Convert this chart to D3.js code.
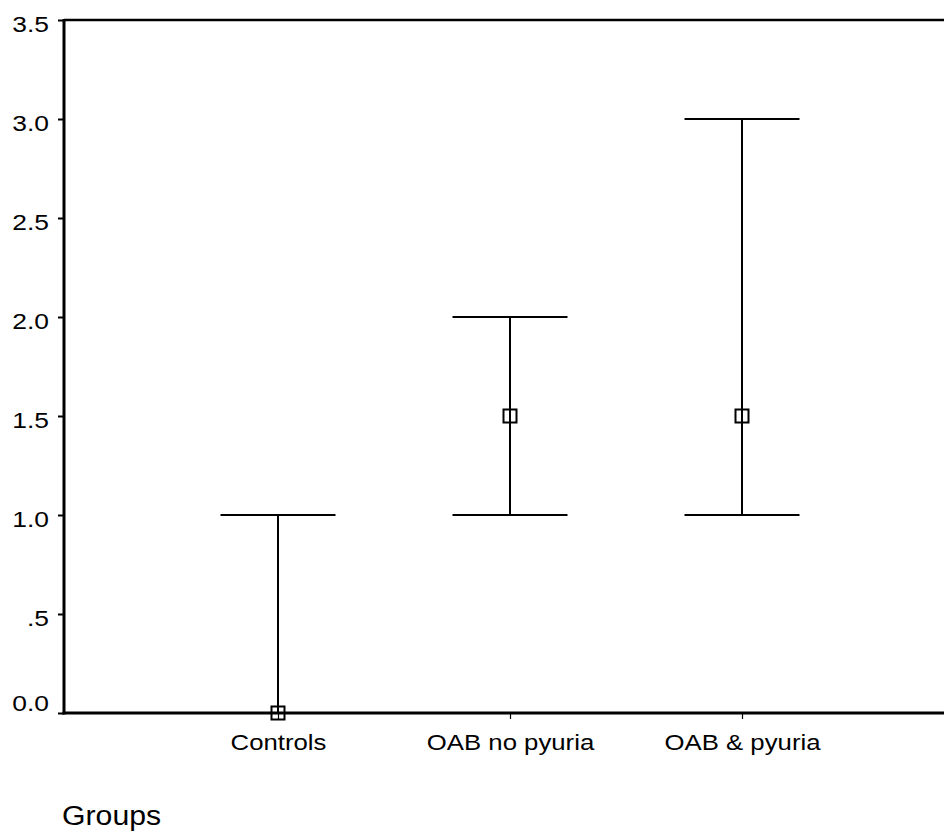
<!DOCTYPE html>
<html>
<head>
<meta charset="utf-8">
<script src="https://cdn.jsdelivr.net/npm/d3@7"></script>
<style>
  html, body { margin: 0; padding: 0; background: #fff; }
  svg { display: block; }
  text { font-family: "Liberation Sans", Arial, sans-serif; fill: #000; }
</style>
</head>
<body>
<svg id="chart" width="944" height="834"></svg>
<script>
// ---- data ----
const categories = ["Controls", "OAB no pyuria", "OAB & pyuria"];
const lowValues  = [0, 1, 1];
const highValues = [1, 2, 3];
const midValues  = [0, 1.5, 1.5];
const yTickValues = [0, 0.5, 1, 1.5, 2, 2.5, 3, 3.5];
const yTickLabels = ["0.0", ".5", "1.0", "1.5", "2.0", "2.5", "3.0", "3.5"];
const xAxisTitle = "Groups";

// ---- layout ----
const W = 944, H = 834;
const plotLeft = 64, plotTop = 20, plotBottom = 713, plotRight = 956;
const sx = 1.12;  // horizontal stretch of the text
const syx = 1.2;  // stretch for y tick labels

const svg = d3.select("#chart");

const y = d3.scaleLinear().domain([0, 3.5]).range([plotBottom, plotTop]);
const x = d3.scalePoint().domain(categories).range([plotLeft, plotRight]).padding(0.9224);

// frame: top line
svg.append("line")
  .attr("x1", plotLeft).attr("x2", W).attr("y1", y(3.5)).attr("y2", y(3.5))
  .attr("stroke", "#000").attr("stroke-width", 2.5);

// y axis
const yAxis = d3.axisLeft(y).tickValues(yTickValues)
  .tickFormat((d, i) => yTickLabels[i]).tickSize(6).tickPadding(0);
const gy = svg.append("g").attr("transform", `translate(${plotLeft},0)`).call(yAxis);
gy.select(".domain").remove();
gy.selectAll(".tick line").attr("stroke", "#000").attr("stroke-width", 2);
gy.selectAll(".tick text").remove();
gy.selectAll(".tick").append("text")
  .attr("text-anchor", "end")
  .attr("font-size", 22)
  .attr("transform", d => {
    const base = Math.min(11, plotBottom - 3 - y(d));
    return `translate(-15,${base}) scale(${syx},1)`;
  })
  .text(d => yTickLabels[yTickValues.indexOf(d)]);
svg.append("line")
  .attr("x1", plotLeft).attr("x2", plotLeft).attr("y1", plotTop - 1).attr("y2", plotBottom + 1.5)
  .attr("stroke", "#000").attr("stroke-width", 3);

// x axis
const xAxis = d3.axisBottom(x).tickSize(6).tickPadding(0);
const gx = svg.append("g").attr("transform", `translate(0,${plotBottom})`).call(xAxis);
gx.select(".domain").remove();
gx.selectAll(".tick line").attr("stroke", "#000").attr("stroke-width", 1.2);
gx.selectAll(".tick text").remove();
gx.selectAll(".tick").append("text")
  .attr("text-anchor", "middle")
  .attr("font-size", 23)
  .attr("transform", `translate(0,37) scale(${sx},1)`)
  .text(d => d);
svg.append("line")
  .attr("x1", plotLeft - 1.5).attr("x2", W).attr("y1", plotBottom).attr("y2", plotBottom)
  .attr("stroke", "#000").attr("stroke-width", 3);

// axis title
svg.append("text")
  .attr("font-size", 27)
  .attr("transform", `translate(62,825) scale(${sx},1)`)
  .text(xAxisTitle);

// error bars
const data = categories.map((c, i) => ({ c, lo: lowValues[i], hi: highValues[i], mid: midValues[i] }));
const capHalf = 57.5;
const g = svg.append("g").attr("stroke", "#000").attr("fill", "none");
data.forEach(d => {
  const cx = x(d.c);
  g.append("line").attr("x1", cx).attr("x2", cx)
    .attr("y1", y(d.hi)).attr("y2", y(d.lo)).attr("stroke-width", 2);
  g.append("line").attr("x1", cx - capHalf).attr("x2", cx + capHalf)
    .attr("y1", y(d.hi)).attr("y2", y(d.hi)).attr("stroke-width", 2);
  g.append("line").attr("x1", cx - capHalf).attr("x2", cx + capHalf)
    .attr("y1", y(d.lo)).attr("y2", y(d.lo)).attr("stroke-width", 2);
  g.append("rect").attr("x", cx - 6.5).attr("y", y(d.mid) - 6.5)
    .attr("width", 13).attr("height", 13).attr("stroke-width", 2);
});
</script>
</body>
</html>
